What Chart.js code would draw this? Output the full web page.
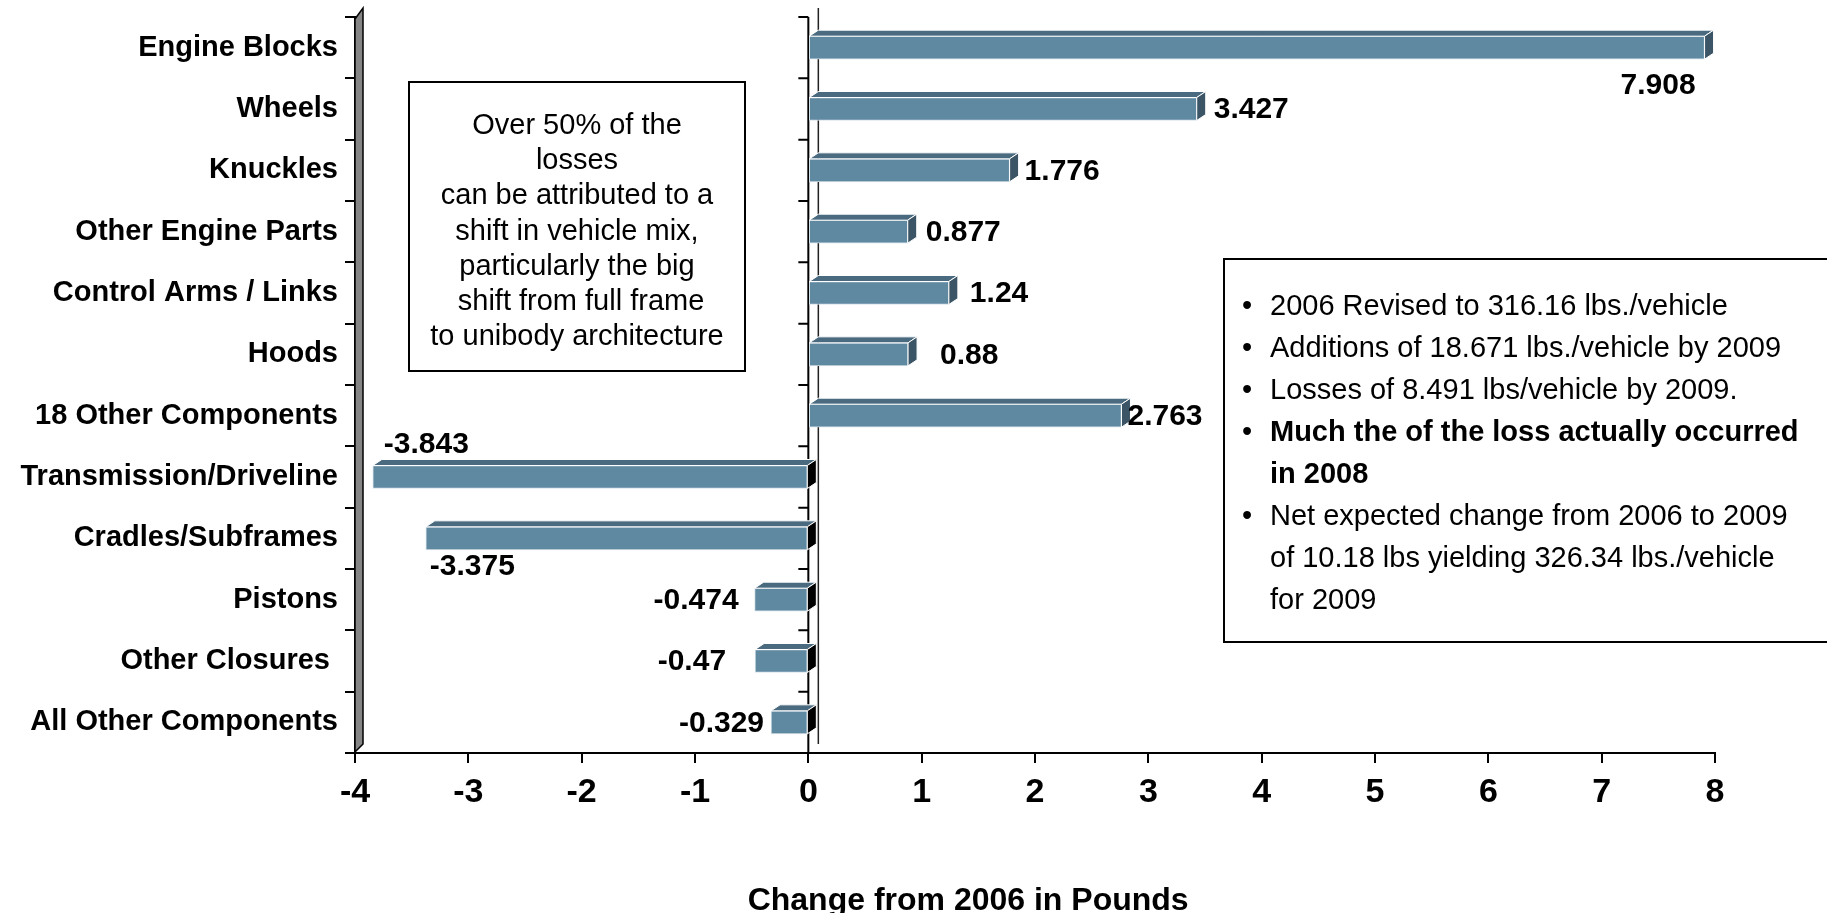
<!DOCTYPE html>
<html>
<head>
<meta charset="utf-8">
<script src="https://cdn.jsdelivr.net/npm/chart.js@4.4.1/dist/chart.umd.min.js"></script>
<style>
  body { margin: 0; background: #fff; }
  #wrap { width: 1827px; height: 913px; }
</style>
</head>
<body>
<div id="wrap"><canvas id="lossChart" width="1827" height="913"></canvas></div>
<script>
// chart data
const categories = ['Engine Blocks', 'Wheels', 'Knuckles', 'Other Engine Parts', 'Control Arms / Links', 'Hoods',
  '18 Other Components', 'Transmission/Driveline', 'Cradles/Subframes', 'Pistons', 'Other Closures ', 'All Other Components'];
const changeLbs = [7.908, 3.427, 1.776, 0.877, 1.24, 0.88, 2.763, -3.843, -3.375, -0.474, -0.47, -0.329];
const valueLabels = ['7.908', '3.427', '1.776', '0.877', '1.24', '0.88', '2.763', '-3.843', '-3.375', '-0.474', '-0.47', '-0.329'];
const xTicks = [-4, -3, -2, -1, 0, 1, 2, 3, 4, 5, 6, 7, 8];
const axisTitle = 'Change from 2006 in Pounds';

const noteLeft = ['Over 50% of the', 'losses', 'can be attributed to a', 'shift in vehicle mix,',
  'particularly the big', ' shift from full frame', 'to unibody architecture'];
const noteRight = ['2006 Revised to 316.16 lbs./vehicle', 'Additions of 18.671 lbs./vehicle by 2009',
  'Losses of 8.491 lbs/vehicle by 2009.', 'Much the of the loss actually occurred', 'in 2008',
  'Net expected change from 2006 to 2009', 'of 10.18 lbs yielding 326.34 lbs./vehicle', 'for 2009'];
const noteRightBullet = [true, true, true, true, false, true, false, false];
const noteRightBold = [false, false, false, true, true, false, false, false];

// where each value label sits relative to the bar tip: [align, dx, dy]
const labelPlace = [['right', -9, 37], ['left', 17, 0], ['left', 15, 0], ['left', 18, 0], ['left', 21, 0],
  ['left', 32, 0], ['left', 6, 0], ['left', 11, -33], ['left', 4, 27], ['right', -16, 0], ['right', -29, 0], ['right', -7, 0]];

const FONT = "'Liberation Sans', Arial, sans-serif";
Chart.defaults.font.family = FONT;

const DX = 9, DY = 6; // 3d depth

// draws the walls, the zero axis, 3d bar faces, labels and text boxes
const depthPlugin = {
  id: 'depth',
  beforeDatasetsDraw(chart) {
    const { ctx, chartArea: a, scales: { x } } = chart;
    const x0 = x.getPixelForValue(0);
    const band = (a.bottom - a.top) / categories.length;
    ctx.save();
    // back line of the zero plane
    ctx.strokeStyle = '#222';
    ctx.lineWidth = 1.5;
    ctx.beginPath();
    ctx.moveTo(x0 + 10, a.top - 9);
    ctx.lineTo(x0 + 10, a.bottom - 9);
    ctx.stroke();
    // zero axis with ticks
    ctx.strokeStyle = '#000';
    ctx.lineWidth = 2;
    ctx.beginPath();
    ctx.moveTo(x0, a.top);
    ctx.lineTo(x0, a.bottom);
    for (let i = 0; i <= categories.length; i++) {
      const yy = a.top + i * band;
      ctx.moveTo(x0 - 10, yy);
      ctx.lineTo(x0, yy);
    }
    ctx.moveTo(a.left - 10, a.bottom);
    ctx.lineTo(a.left, a.bottom);
    ctx.stroke();
    // grey left wall
    ctx.fillStyle = '#858585';
    ctx.lineWidth = 1.5;
    ctx.beginPath();
    ctx.moveTo(a.left, a.top + 2);
    ctx.lineTo(a.left + 8, a.top - 9);
    ctx.lineTo(a.left + 8, a.bottom - 9);
    ctx.lineTo(a.left, a.bottom - 1);
    ctx.closePath();
    ctx.fill();
    ctx.stroke();
    ctx.restore();
  },
  afterDatasetsDraw(chart) {
    const { ctx } = chart;
    const meta = chart.getDatasetMeta(0);
    ctx.save();
    meta.data.forEach((bar, i) => {
      const h = bar.height;
      const top = bar.y - h / 2, bottom = bar.y + h / 2;
      const left = Math.min(bar.x, bar.base), right = Math.max(bar.x, bar.base);
      ctx.strokeStyle = '#fff';
      ctx.lineWidth = 1;
      // top face
      ctx.fillStyle = '#4A6A7F';
      ctx.beginPath();
      ctx.moveTo(left, top);
      ctx.lineTo(right, top);
      ctx.lineTo(right + DX, top - DY);
      ctx.lineTo(left + DX, top - DY);
      ctx.closePath();
      ctx.fill();
      ctx.stroke();
      // right end face
      ctx.fillStyle = changeLbs[i] >= 0 ? '#3B5566' : '#000';
      ctx.beginPath();
      ctx.moveTo(right, top);
      ctx.lineTo(right + DX, top - DY);
      ctx.lineTo(right + DX, bottom - DY);
      ctx.lineTo(right, bottom);
      ctx.closePath();
      ctx.fill();
      ctx.stroke();
    });
    // value labels
    ctx.fillStyle = '#000';
    ctx.font = 'bold 30px ' + FONT;
    ctx.textBaseline = 'middle';
    meta.data.forEach((bar, i) => {
      const [align, dx, dy] = labelPlace[i];
      ctx.textAlign = align;
      ctx.fillText(valueLabels[i], bar.x + dx, bar.y + dy + 1);
    });
    ctx.restore();
  },
  afterDraw(chart) {
    const { ctx, scales: { x } } = chart;
    ctx.save();
    // axis title
    ctx.fillStyle = '#000';
    ctx.font = 'bold 32px ' + FONT;
    ctx.textAlign = 'center';
    ctx.textBaseline = 'middle';
    ctx.fillText(axisTitle, x.getPixelForValue(1.41), 901);

    // left note box
    ctx.fillStyle = '#fff';
    ctx.strokeStyle = '#000';
    ctx.lineWidth = 2;
    ctx.fillRect(409, 82, 336, 289);
    ctx.strokeRect(409, 82, 336, 289);
    ctx.fillStyle = '#000';
    ctx.font = '29px ' + FONT;
    noteLeft.forEach((t, i) => ctx.fillText(t, 577, 126 + i * 35.2));

    // right note box
    ctx.fillStyle = '#fff';
    ctx.fillRect(1224, 259, 610, 383);
    ctx.strokeRect(1224, 259, 610, 383);
    ctx.fillStyle = '#000';
    ctx.textAlign = 'left';
    noteRight.forEach((t, i) => {
      const yy = 307 + i * 42;
      if (noteRightBullet[i]) {
        ctx.font = '29px ' + FONT;
        ctx.fillText('\u2022', 1242, yy);
      }
      ctx.font = (noteRightBold[i] ? 'bold ' : '') + '29px ' + FONT;
      ctx.fillText(t, 1270, yy);
    });
    ctx.restore();
  }
};

new Chart(document.getElementById('lossChart'), {
  type: 'bar',
  data: {
    labels: categories,
    datasets: [{
      data: changeLbs,
      backgroundColor: '#5F89A1',
      borderColor: '#D5E1E8',
      borderWidth: 1,
      borderSkipped: false,
      barThickness: 23
    }]
  },
  options: {
    indexAxis: 'y',
    responsive: false,
    animation: false,
    layout: { padding: { top: 17, right: 112, left: 0, bottom: 0 } },
    plugins: {
      legend: { display: false },
      tooltip: { enabled: false }
    },
    scales: {
      x: {
        min: xTicks[0],
        max: xTicks[xTicks.length - 1],
        afterFit: (s) => { s.height = 160; },
        afterBuildTicks: (s) => { s.ticks = xTicks.map(v => ({ value: v })); },
        grid: { drawOnChartArea: false, tickLength: 10, color: '#000', lineWidth: 2 },
        border: { color: '#000', width: 2 },
        ticks: { color: '#000', font: { size: 34, weight: 'bold' }, padding: 9, maxRotation: 0 }
      },
      y: {
        afterFit: (s) => { s.width = 355; s.paddingTop = 0; s.paddingBottom = 0; },
        grid: { drawOnChartArea: false, tickLength: 10, color: '#000', lineWidth: 2, offset: true },
        border: { color: '#000', width: 2 },
        ticks: { color: '#000', font: { size: 29, weight: 'bold' }, padding: 7, autoSkip: false }
      }
    }
  },
  plugins: [depthPlugin]
});
</script>
</body>
</html>
